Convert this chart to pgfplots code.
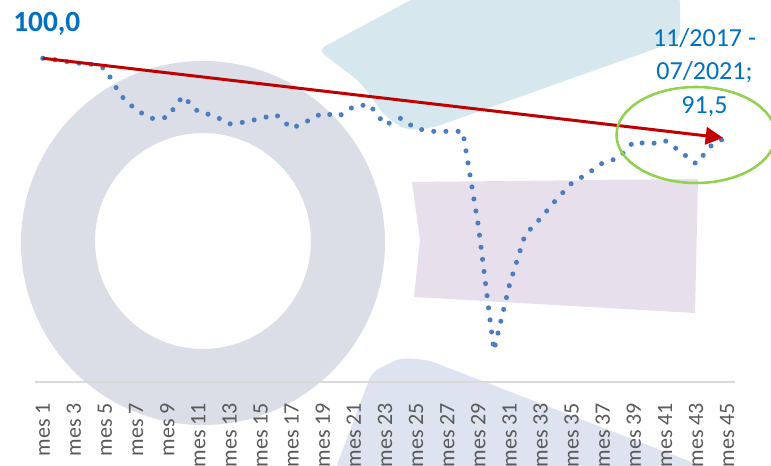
\documentclass[border=0pt]{standalone}
\usepackage{fontspec}
\setmainfont{Carlito}
\usepackage{pgfplots}
\pgfplotsset{compat=1.18}
\usetikzlibrary{arrows.meta}
\definecolor{ringgray}{RGB}{219,221,231}
\definecolor{lightcyan}{RGB}{214,232,237}
\definecolor{lightpurple}{RGB}{231,223,236}
\definecolor{bottomblue}{RGB}{221,227,239}
\definecolor{datablue}{RGB}{74,126,193}
\definecolor{arrowred}{RGB}{192,0,0}
\definecolor{ellgreen}{RGB}{146,208,80}
\definecolor{labelblue}{RGB}{0,112,192}
\definecolor{tickgray}{RGB}{89,89,89}
\definecolor{axisgray}{RGB}{217,217,217}
\begin{document}
\begin{tikzpicture}
\begin{scope}[x=0.75pt,y=-0.75pt]
  \fill[white] (0,0) rectangle (771,466);
  % decorative watermark shapes
  \fill[ringgray, even odd rule] (203,243) circle[radius=182] (203,241) circle[radius=108];
  \fill[lightcyan, rounded corners=6pt] (318,50) -- (360,82) -- (385,116) -- (405,130) -- (432,128) -- (680,40) -- (680,-5) -- (420,-5) -- cycle;
  \fill[lightpurple] (412,182) -- (698,179) -- (695,313) -- (414,297) -- (420,240) -- cycle;
  \fill[bottomblue, rounded corners=6pt] (372,372) -- (400,358) -- (428,360) -- (712,470) -- (335,470) -- cycle;
\end{scope}
\begin{axis}[
  at={(26.25pt,-286.5pt)}, anchor=south west,
  scale only axis, width=525pt, height=242.8pt,
  xmin=0.5, xmax=45.5, ymin=65, ymax=100,
  axis x line=bottom, axis y line=none,
  x axis line style={-, draw=axisgray, line width=1.2pt},
  xtick={1,3,...,45},
  xticklabels={mes 1,mes 3,mes 5,mes 7,mes 9,mes 11,mes 13,mes 15,mes 17,mes 19,mes 21,mes 23,mes 25,mes 27,mes 29,mes 31,mes 33,mes 35,mes 37,mes 39,mes 41,mes 43,mes 45},
  major tick length=0pt,
  xticklabel style={rotate=90, anchor=east, inner sep=0pt, xshift=-15.5pt,
    font=\fontsize{16.5}{19}\selectfont, text=tickgray},
  clip=false,
]
\addplot[draw=datablue, line width=3.8pt, line cap=round, line join=round,
  dash pattern=on 0pt off 9.15pt, mark=none] coordinates {
(1,100.0) (2,99.8) (3,99.5) (4,99.4) (5,98.9) (6,96.0) (7,94.4) (8,93.5) (9,93.6)
(10,95.9) (11,94.2) (12,93.8) (13,92.9) (14,93.1) (15,93.5) (16,93.9) (17,92.4)
(18,93.2) (19,94.1) (20,93.7) (21,94.8) (22,95.0) (23,92.8) (24,93.5) (25,92.4)
(26,92.1) (27,92.1) (28,92.1) (29,81.9) (30,68.4) (31,75.5) (32,80.9) (33,82.7)
(34,84.7) (35,86.5) (36,87.5) (37,88.7) (38,89.2) (39,91.0) (40,90.7) (41,91.1)
(42,89.9) (43,88.6) (44,90.6) (45,91.5)
};
\addplot[draw=arrowred, line width=2.25pt, mark=none,
  -{Triangle[length=13pt,width=13pt]}] coordinates {(1,100.0) (44.73,91.4)};
\end{axis}
\begin{scope}[x=0.75pt,y=-0.75pt]
  \draw[ellgreen, line width=1.9pt] (696,135) ellipse[x radius=79.5, y radius=48];
  \node[anchor=base west, inner sep=0pt, text=labelblue,
    font=\fontsize{22}{26}\selectfont\bfseries] at (13,31.7) {100,0};
  \node[anchor=base, inner sep=0pt, text=labelblue, font=\fontsize{19.5}{25}\selectfont] at (704.5,46.7) {11/2017 -};
  \node[anchor=base, inner sep=0pt, text=labelblue, font=\fontsize{19.5}{25}\selectfont] at (704.5,80) {07/2021;};
  \node[anchor=base, inner sep=0pt, text=labelblue, font=\fontsize{19.5}{25}\selectfont] at (704.5,113.3) {91,5};
\end{scope}
\pgfresetboundingbox
\path[use as bounding box] (0pt,0pt) rectangle (578.25pt,-349.5pt);
\end{tikzpicture}
\end{document}
